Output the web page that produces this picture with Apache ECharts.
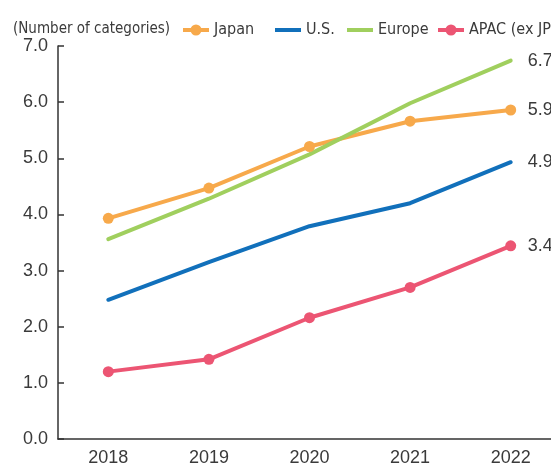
<!DOCTYPE html>
<html>
<head>
<meta charset="utf-8">
<script src="https://cdn.jsdelivr.net/npm/echarts@6/dist/echarts.min.js"></script>
<style>
  html, body { margin: 0; padding: 0; background: #ffffff; }
  #chart { width: 551px; height: 466px; }
</style>
</head>
<body>
<div id="chart"></div>
<script>
// Categories per region, 2018–2022
const years = ['2018', '2019', '2020', '2021', '2022'];
const japan = [3.93, 4.47, 5.21, 5.66, 5.86];
const us = [2.48, 3.15, 3.79, 4.20, 4.93];
const europe = [3.56, 4.28, 5.07, 5.98, 6.74];
const apac = [1.20, 1.42, 2.16, 2.70, 3.44];
const yTicks = [0, 1, 2, 3, 4, 5, 6, 7];

const narrow = "'DejaVu Sans Condensed', 'Liberation Sans', sans-serif";
const plain = "'Liberation Sans', Arial, sans-serif";
const textColor = '#3a3a3a';

// Legend glyphs: a thick stroke, optionally with a dot in the middle
const lineIcon = 'path://M0,0H26V4H0Z';
const dotLineIcon = 'path://M0,3.5H26V7.5H0Z M13,0A5.5,5.5 0 1 1 12.99,0Z';

function lineSeries(name, data, color, withSymbol) {
  return {
    name: name,
    type: 'line',
    data: data,
    symbol: withSymbol ? 'circle' : 'none',
    symbolSize: 11,
    showSymbol: withSymbol,
    lineStyle: { width: 4, color: color, cap: 'round' },
    itemStyle: { color: color },
    emphasis: { disabled: true },
    endLabel: {
      show: true,
      distance: 17,
      fontFamily: plain,
      fontSize: 18,
      color: textColor,
      formatter: p => Number(p.value).toFixed(1)
    }
  };
}

function legendAt(name, left, withSymbol) {
  return {
    data: [name],
    left: left,
    top: 17,
    itemWidth: 26,
    itemHeight: withSymbol ? 11 : 4,
    icon: withSymbol ? dotLineIcon : lineIcon,
    selectedMode: false,
    textStyle: { fontFamily: narrow, fontSize: 16, color: textColor }
  };
}

const chart = echarts.init(document.getElementById('chart'), null, { renderer: 'canvas' });
chart.setOption({
  animation: false,
  backgroundColor: '#ffffff',
  title: {
    text: '(Number of categories)',
    left: 8,
    top: 17,
    textStyle: { fontFamily: narrow, fontSize: 15, fontWeight: 'normal', color: textColor }
  },
  legend: [
    legendAt('Japan', 178, true),
    legendAt('U.S.', 270, false),
    legendAt('Europe', 342, false),
    legendAt('APAC (ex JP)', 433, true)
  ],
  grid: { left: 58, top: 46, bottom: 27, width: 503, containLabel: false, outerBoundsMode: 'none' },
  xAxis: {
    type: 'category',
    data: years,
    boundaryGap: true,
    axisLine: { lineStyle: { color: '#333', width: 1.5 } },
    axisTick: { inside: true, length: 7, lineStyle: { color: '#333', width: 1.5 } },
    axisLabel: { fontFamily: plain, fontSize: 18, color: textColor, margin: 10 },
    splitLine: { show: false }
  },
  yAxis: {
    type: 'value',
    min: yTicks[0],
    max: yTicks[yTicks.length - 1],
    interval: 1,
    axisLine: { show: true, lineStyle: { color: '#333', width: 1.5 } },
    axisTick: { show: true, inside: true, length: 6, lineStyle: { color: '#333', width: 1.5 } },
    axisLabel: { fontFamily: plain, fontSize: 18, color: textColor, margin: 10, formatter: v => v.toFixed(1) },
    splitLine: { show: false }
  },
  series: [
    lineSeries('Japan', japan, '#f7a94b', true),
    lineSeries('U.S.', us, '#1170bb', false),
    lineSeries('Europe', europe, '#a0cf5e', false),
    lineSeries('APAC (ex JP)', apac, '#ec5573', true)
  ]
});
</script>
</body>
</html>
